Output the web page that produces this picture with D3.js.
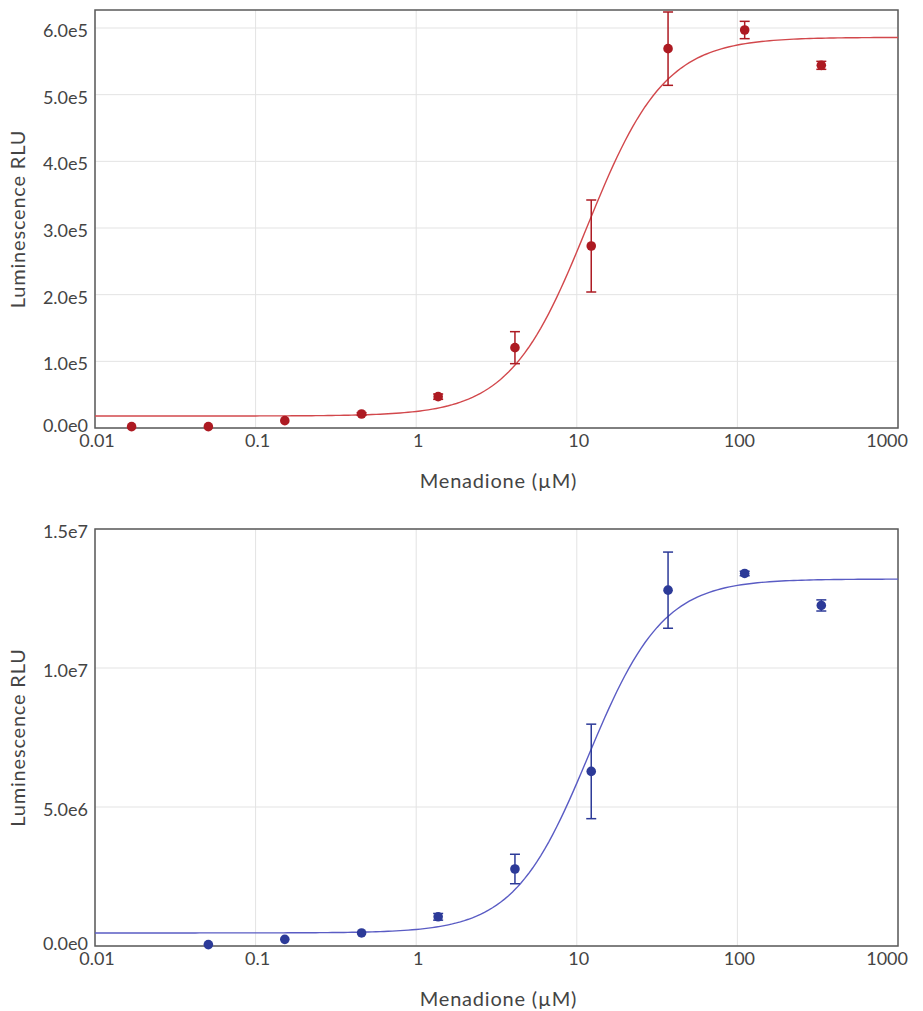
<!DOCTYPE html>
<meta charset="utf-8">
<script src="https://d3js.org/d3.v7.min.js"></script>
<style>
  body { margin: 0; background: #fff; }
  svg text { font-family: Lato, "Open Sans", sans-serif; fill: #444; }
</style>
<div id="chart"></div>
<script>
// concentrations (µM), 3-fold dilution
var conc = [0.0169, 0.0508, 0.152, 0.457, 1.37, 4.12, 12.3, 37, 111, 333];

// top panel (red)
var redMean = [2000, 2000, 11000, 21000, 47000, 120500, 273000, 569000, 597000, 544000];
var redErr  = [0, 0, 0, 2000, 4000, 24000, 69000, 55000, 13000, 6000];
var redFit  = [18000, 586000, 11.6, 1.8];   // bottom, top, EC50, hill
var redTicks = [0, 1e5, 2e5, 3e5, 4e5, 5e5, 6e5];
var redTickLabels = ["0.0e0", "1.0e5", "2.0e5", "3.0e5", "4.0e5", "5.0e5", "6.0e5"];

// bottom panel (blue) - no point at lowest conc
var blueConc = conc.slice(1);
var blueMean = [0.05e6, 0.24e6, 0.47e6, 1.05e6, 2.77e6, 6.28e6, 12.8e6, 13.4e6, 12.25e6];
var blueErr  = [0, 0, 0, 0.12e6, 0.53e6, 1.7e6, 1.37e6, 0.08e6, 0.2e6];
var blueFit  = [0.47e6, 13.2e6, 11.8, 1.87];
var blueTicks = [0, 5e6, 1e7, 1.5e7];
var blueTickLabels = ["0.0e0", "5.0e6", "1.0e7", "1.5e7"];

var xTicks = [0.01, 0.1, 1, 10, 100, 1000];
var xTickLabels = ["0.01", "0.1", "1", "10", "100", "1000"];

var svg = d3.select("#chart").append("svg")
    .attr("width", 923).attr("height", 1011);

function panel(opts) {
    var left = 95, width = 803, top = opts.top, height = opts.height;
    var g = svg.append("g").attr("transform", "translate(" + left + "," + top + ")");

    var x = d3.scaleLog().domain([0.01, 1000]).range([0, width]);
    var y = d3.scaleLinear().domain([0, opts.ymax]).range([height, 0]);

    // grid
    g.selectAll(".vg").data(xTicks).enter().append("line")
        .attr("x1", d => x(d)).attr("x2", d => x(d))
        .attr("y1", 0).attr("y2", height)
        .attr("stroke", "#e3e3e3").attr("stroke-width", 1);
    g.selectAll(".hg").data(opts.ticks).enter().append("line")
        .attr("x1", 0).attr("x2", width)
        .attr("y1", d => y(d)).attr("y2", d => y(d))
        .attr("stroke", "#e3e3e3").attr("stroke-width", 1);

    // frame
    g.append("rect").attr("x", 0).attr("y", 0)
        .attr("width", width).attr("height", height)
        .attr("fill", "none").attr("stroke", "#5a5a5a").attr("stroke-width", 1.5);

    // tick labels
    g.selectAll(".yl").data(opts.ticks).enter().append("text")
        .attr("x", -7)
        .attr("y", (d, i) => y(d) + (i == 0 ? 4 : 9))
        .attr("text-anchor", "end")
        .style("font-size", "18px")
        .text((d, i) => opts.tickLabels[i]);
    g.selectAll(".xl").data(xTicks).enter().append("text")
        .attr("x", (d, i) => i == xTicks.length - 1 ? x(d) + 10 : x(d) + 2)
        .attr("y", height + 19)
        .attr("text-anchor", (d, i) => i == xTicks.length - 1 ? "end" : "middle")
        .style("font-size", "18px")
        .text((d, i) => xTickLabels[i]);

    // axis titles
    g.append("text")
        .attr("x", width / 2 + 2).attr("y", height + 60)
        .attr("text-anchor", "middle")
        .style("font-size", "20px")
        .style("letter-spacing", "0.8px")
        .text("Menadione (µM)");
    g.append("text")
        .attr("transform", "translate(" + (-70) + "," + (height / 2) + ") rotate(-90)")
        .attr("text-anchor", "middle")
        .style("font-size", "20px")
        .style("letter-spacing", "0.8px")
        .text("Luminescence RLU");

    // fitted 4PL curve
    var f = opts.fit;
    var xs = d3.range(0, 201).map(i => Math.pow(10, -2 + 5 * i / 200));
    var line = d3.line()
        .x(d => x(d))
        .y(d => y(f[0] + (f[1] - f[0]) / (1 + Math.pow(f[2] / d, f[3]))));
    g.append("path").datum(xs)
        .attr("d", line)
        .attr("fill", "none")
        .attr("stroke", opts.lineColor)
        .attr("stroke-width", 1.4);

    // error bars
    var pts = opts.conc.map((c, i) => ({ c: c, m: opts.mean[i], e: opts.err[i] }));
    var eb = g.selectAll(".eb").data(pts.filter(d => d.e > 0)).enter().append("g")
        .attr("stroke", opts.dotColor).attr("stroke-width", 1.5);
    eb.append("line")
        .attr("x1", d => x(d.c)).attr("x2", d => x(d.c))
        .attr("y1", d => y(d.m + d.e)).attr("y2", d => y(d.m - d.e));
    eb.append("line")
        .attr("x1", d => x(d.c) - 5).attr("x2", d => x(d.c) + 5)
        .attr("y1", d => y(d.m + d.e)).attr("y2", d => y(d.m + d.e));
    eb.append("line")
        .attr("x1", d => x(d.c) - 5).attr("x2", d => x(d.c) + 5)
        .attr("y1", d => y(d.m - d.e)).attr("y2", d => y(d.m - d.e));

    // points
    g.selectAll(".pt").data(pts).enter().append("circle")
        .attr("cx", d => x(d.c)).attr("cy", d => y(d.m))
        .attr("r", 4.8)
        .attr("fill", opts.dotColor);
}

panel({ top: 10, height: 418, ymax: 6.27e5, ticks: redTicks, tickLabels: redTickLabels,
        conc: conc, mean: redMean, err: redErr, fit: redFit,
        dotColor: "#ad1a22", lineColor: "#d2484c" });
panel({ top: 529, height: 417, ymax: 1.5e7, ticks: blueTicks, tickLabels: blueTickLabels,
        conc: blueConc, mean: blueMean, err: blueErr, fit: blueFit,
        dotColor: "#2c3a98", lineColor: "#5a5cc4" });
</script>
